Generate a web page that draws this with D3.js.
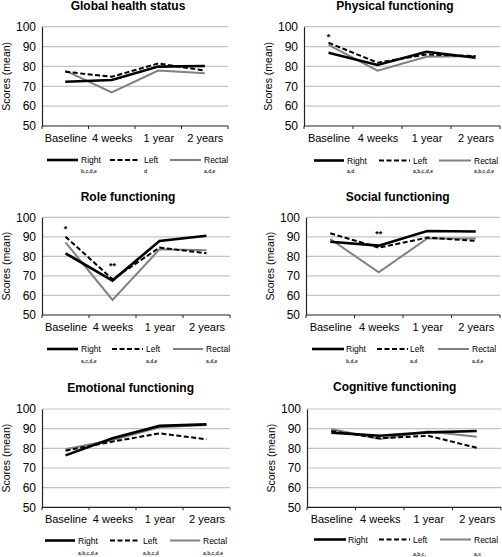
<!DOCTYPE html>
<html>
<head>
<meta charset="utf-8">
<script src="https://cdn.jsdelivr.net/npm/d3@7"></script>
<style>
  html, body { margin: 0; padding: 0; background: #fff; }
  svg { display: block; font-family: "Liberation Sans", Arial, sans-serif; }
</style>
</head>
<body>
<svg id="chart" width="502" height="557"></svg>
<script>
// ---------- DATA ----------
const categories = ["Baseline", "4 weeks", "1 year", "2 years"];
const seriesNames = ["Right", "Left", "Rectal"];
const yTicks = [50, 60, 70, 80, 90, 100];
const panelTitles = ["Global health status", "Physical functioning", "Role functioning",
                     "Social functioning", "Emotional functioning", "Cognitive functioning"];

const globalRight  = [72.3, 73.2, 79.9, 80.2];
const globalLeft   = [77.3, 74.8, 81.5, 77.9];
const globalRectal = [77.9, 66.9, 77.9, 76.5];
const globalNotes  = ["b,c,d,e", "d", "a,d,e"];
const globalStars  = [];

const physicalRight  = [86.9, 80.7, 87.4, 84.4];
const physicalLeft   = [91.9, 81.9, 86.0, 85.2];
const physicalRectal = [90.8, 77.9, 84.9, 85.2];
const physicalNotes  = ["a,d", "a,b,c,d,e", "a,b,c,d,e"];
const physicalStars  = [{ cat: "Baseline", value: 95.8, text: "*" }];

const roleRight  = [81.6, 67.6, 87.9, 90.6];
const roleLeft   = [90.1, 68.3, 84.5, 81.6];
const roleRectal = [87.2, 57.7, 83.6, 83.1];
const roleNotes  = ["a,c,d,e", "a,d,e", "a,d,e"];
const roleStars  = [{ cat: "Baseline", value: 95.2, text: "*" }, { cat: "4 weeks", value: 76.1, text: "**" }];

const socialRight  = [87.5, 85.5, 93.0, 92.7];
const socialLeft   = [91.8, 84.5, 89.6, 87.9];
const socialRectal = [88.9, 71.8, 89.2, 89.2];
const socialNotes  = ["b,d,e", "a,d", "a,d,e"];
const socialStars  = [{ cat: "4 weeks", value: 92.3, text: "**" }];

const emotionalRight  = [76.4, 85.1, 91.4, 92.2];
const emotionalLeft   = [78.8, 83.4, 87.6, 84.6];
const emotionalRectal = [79.5, 84.2, 90.7, 91.9];
const emotionalNotes  = ["a,b,c,d,e", "a,b,c,d", "a,b,c,d,e"];
const emotionalStars  = [];

const cognitiveRight  = [88.0, 86.4, 88.1, 88.8];
const cognitiveLeft   = [88.8, 85.1, 86.4, 80.3];
const cognitiveRectal = [89.8, 84.7, 88.5, 85.9];
const cognitiveNotes  = ["", "a,b,c,", "a,c"];
const cognitiveStars  = [];

// ---------- LAYOUT / STYLE ----------
const seriesStyle = {
  Right:  { stroke: "#000000", width: 2.6, dash: null },
  Left:   { stroke: "#000000", width: 2.0, dash: "5,2.5" },
  Rectal: { stroke: "#808080", width: 2.0, dash: null }
};

const layouts = [
  { l: 42,  r: 228, t: 26.7,  b: 126,   tx: 128,   ty: 10,  leg: [[47,78,81],[110,140,144],[170,201,204]], ly: 160,   sy: 172.8 },
  { l: 304, r: 500, t: 26.7,  b: 126,   tx: 395,   ty: 10,  leg: [[314,344,347],[379,410,413],[439,471,474]], ly: 160.5, sy: 173.2 },
  { l: 42,  r: 230, t: 217.3, b: 315,   tx: 128,   ty: 201, leg: [[47,78,81],[112,143,146],[173,203,206]], ly: 349,   sy: 362.5 },
  { l: 306, r: 500, t: 217.3, b: 315,   tx: 397.7, ty: 201, leg: [[312,344,346],[377,408,410],[438,469,472]], ly: 349,   sy: 362.5 },
  { l: 42,  r: 230, t: 409,   b: 507.3, tx: 130.7, ty: 392, leg: [[45,75,78],[110,140,143],[170,200,203]], ly: 540.5, sy: 555.2 },
  { l: 307, r: 501, t: 409,   b: 507.3, tx: 394.7, ty: 391, leg: [[314,346,348],[379,410,413],[440,471,474]], ly: 539.5, sy: 555.8 }
];

const panelSeries = [
  [globalRight, globalLeft, globalRectal],
  [physicalRight, physicalLeft, physicalRectal],
  [roleRight, roleLeft, roleRectal],
  [socialRight, socialLeft, socialRectal],
  [emotionalRight, emotionalLeft, emotionalRectal],
  [cognitiveRight, cognitiveLeft, cognitiveRectal]
];
const panelNotes = [globalNotes, physicalNotes, roleNotes, socialNotes, emotionalNotes, cognitiveNotes];
const panelStars = [globalStars, physicalStars, roleStars, socialStars, emotionalStars, cognitiveStars];

// ---------- DRAW ----------
const svg = d3.select("#chart");
svg.append("rect").attr("width", 502).attr("height", 557).attr("fill", "#fff");

layouts.forEach((L, i) => {
  const g = svg.append("g");
  const x = d3.scalePoint().domain(categories).range([L.l, L.r]).padding(0.5);
  const y = d3.scaleLinear().domain([50, 100]).range([L.b, L.t]);
  const step = x.step();

  // title
  g.append("text").attr("x", L.tx).attr("y", L.ty)
    .attr("text-anchor", "middle").attr("font-size", 12).attr("font-weight", "bold")
    .attr("fill", "#000").text(panelTitles[i]);

  // gridlines
  g.selectAll("line.grid").data(yTicks.filter(v => v > 50)).enter().append("line")
    .attr("x1", L.l).attr("x2", L.r).attr("y1", d => y(d)).attr("y2", d => y(d))
    .attr("stroke", "#c4c4c4").attr("stroke-width", 1.2);

  // y axis
  const yAxis = d3.axisLeft(y).tickValues(yTicks).tickSize(0).tickPadding(6);
  const ya = g.append("g").attr("transform", `translate(${L.l},0)`).call(yAxis);
  ya.select(".domain").attr("stroke", "#222").attr("stroke-width", 1.2);
  ya.selectAll("text").attr("font-size", 12).attr("fill", "#000")
    .attr("font-family", "Liberation Sans, Arial, sans-serif");

  // x axis
  const xa = g.append("g").attr("transform", `translate(0,${L.b})`)
    .call(d3.axisBottom(x).tickSize(0).tickPadding(8));
  xa.select(".domain").remove();
  xa.selectAll("text").attr("font-size", 11).attr("fill", "#000")
    .attr("font-family", "Liberation Sans, Arial, sans-serif");
  g.append("line").attr("x1", L.l).attr("x2", L.r).attr("y1", L.b).attr("y2", L.b)
    .attr("stroke", "#222").attr("stroke-width", 1.2);
  g.selectAll("line.xtick").data(d3.range(categories.length + 1)).enter().append("line")
    .attr("x1", d => L.l + d * step).attr("x2", d => L.l + d * step)
    .attr("y1", L.b).attr("y2", L.b + 3).attr("stroke", "#222").attr("stroke-width", 1);

  // y label
  g.append("text")
    .attr("transform", `translate(${L.l - 32},${(L.t + L.b) / 2}) rotate(-90)`)
    .attr("text-anchor", "middle").attr("font-size", 10.5).attr("fill", "#000")
    .text("Scores (mean)");

  // lines (draw Rectal first, then Left, then Right on top)
  const line = d3.line().x((d, j) => x(categories[j])).y(d => y(d));
  [2, 1, 0].forEach(k => {
    const s = seriesStyle[seriesNames[k]];
    g.append("path").datum(panelSeries[i][k])
      .attr("d", line).attr("fill", "none")
      .attr("stroke", s.stroke).attr("stroke-width", s.width)
      .attr("stroke-dasharray", s.dash)
      .attr("stroke-linejoin", "miter");
  });

  // significance stars
  g.selectAll("text.star").data(panelStars[i]).enter().append("text")
    .attr("x", d => x(d.cat)).attr("y", d => y(d.value) + 5)
    .attr("text-anchor", "middle").attr("font-size", 9).attr("font-weight", "bold")
    .attr("fill", "#000").text(d => d.text);

  // legend
  seriesNames.forEach((name, k) => {
    const [x1, x2, tx] = L.leg[k];
    const s = seriesStyle[name];
    g.append("line").attr("x1", x1).attr("x2", x2).attr("y1", L.ly).attr("y2", L.ly)
      .attr("stroke", s.stroke).attr("stroke-width", s.width).attr("stroke-dasharray", s.dash);
    g.append("text").attr("x", tx).attr("y", L.ly + 3).attr("font-size", 8.5)
      .attr("fill", "#000").text(name);
    g.append("text").attr("x", tx).attr("y", L.sy).attr("font-size", 5)
      .attr("font-weight", "bold").attr("fill", "#333").text(panelNotes[i][k]);
  });
});
</script>
</body>
</html>
